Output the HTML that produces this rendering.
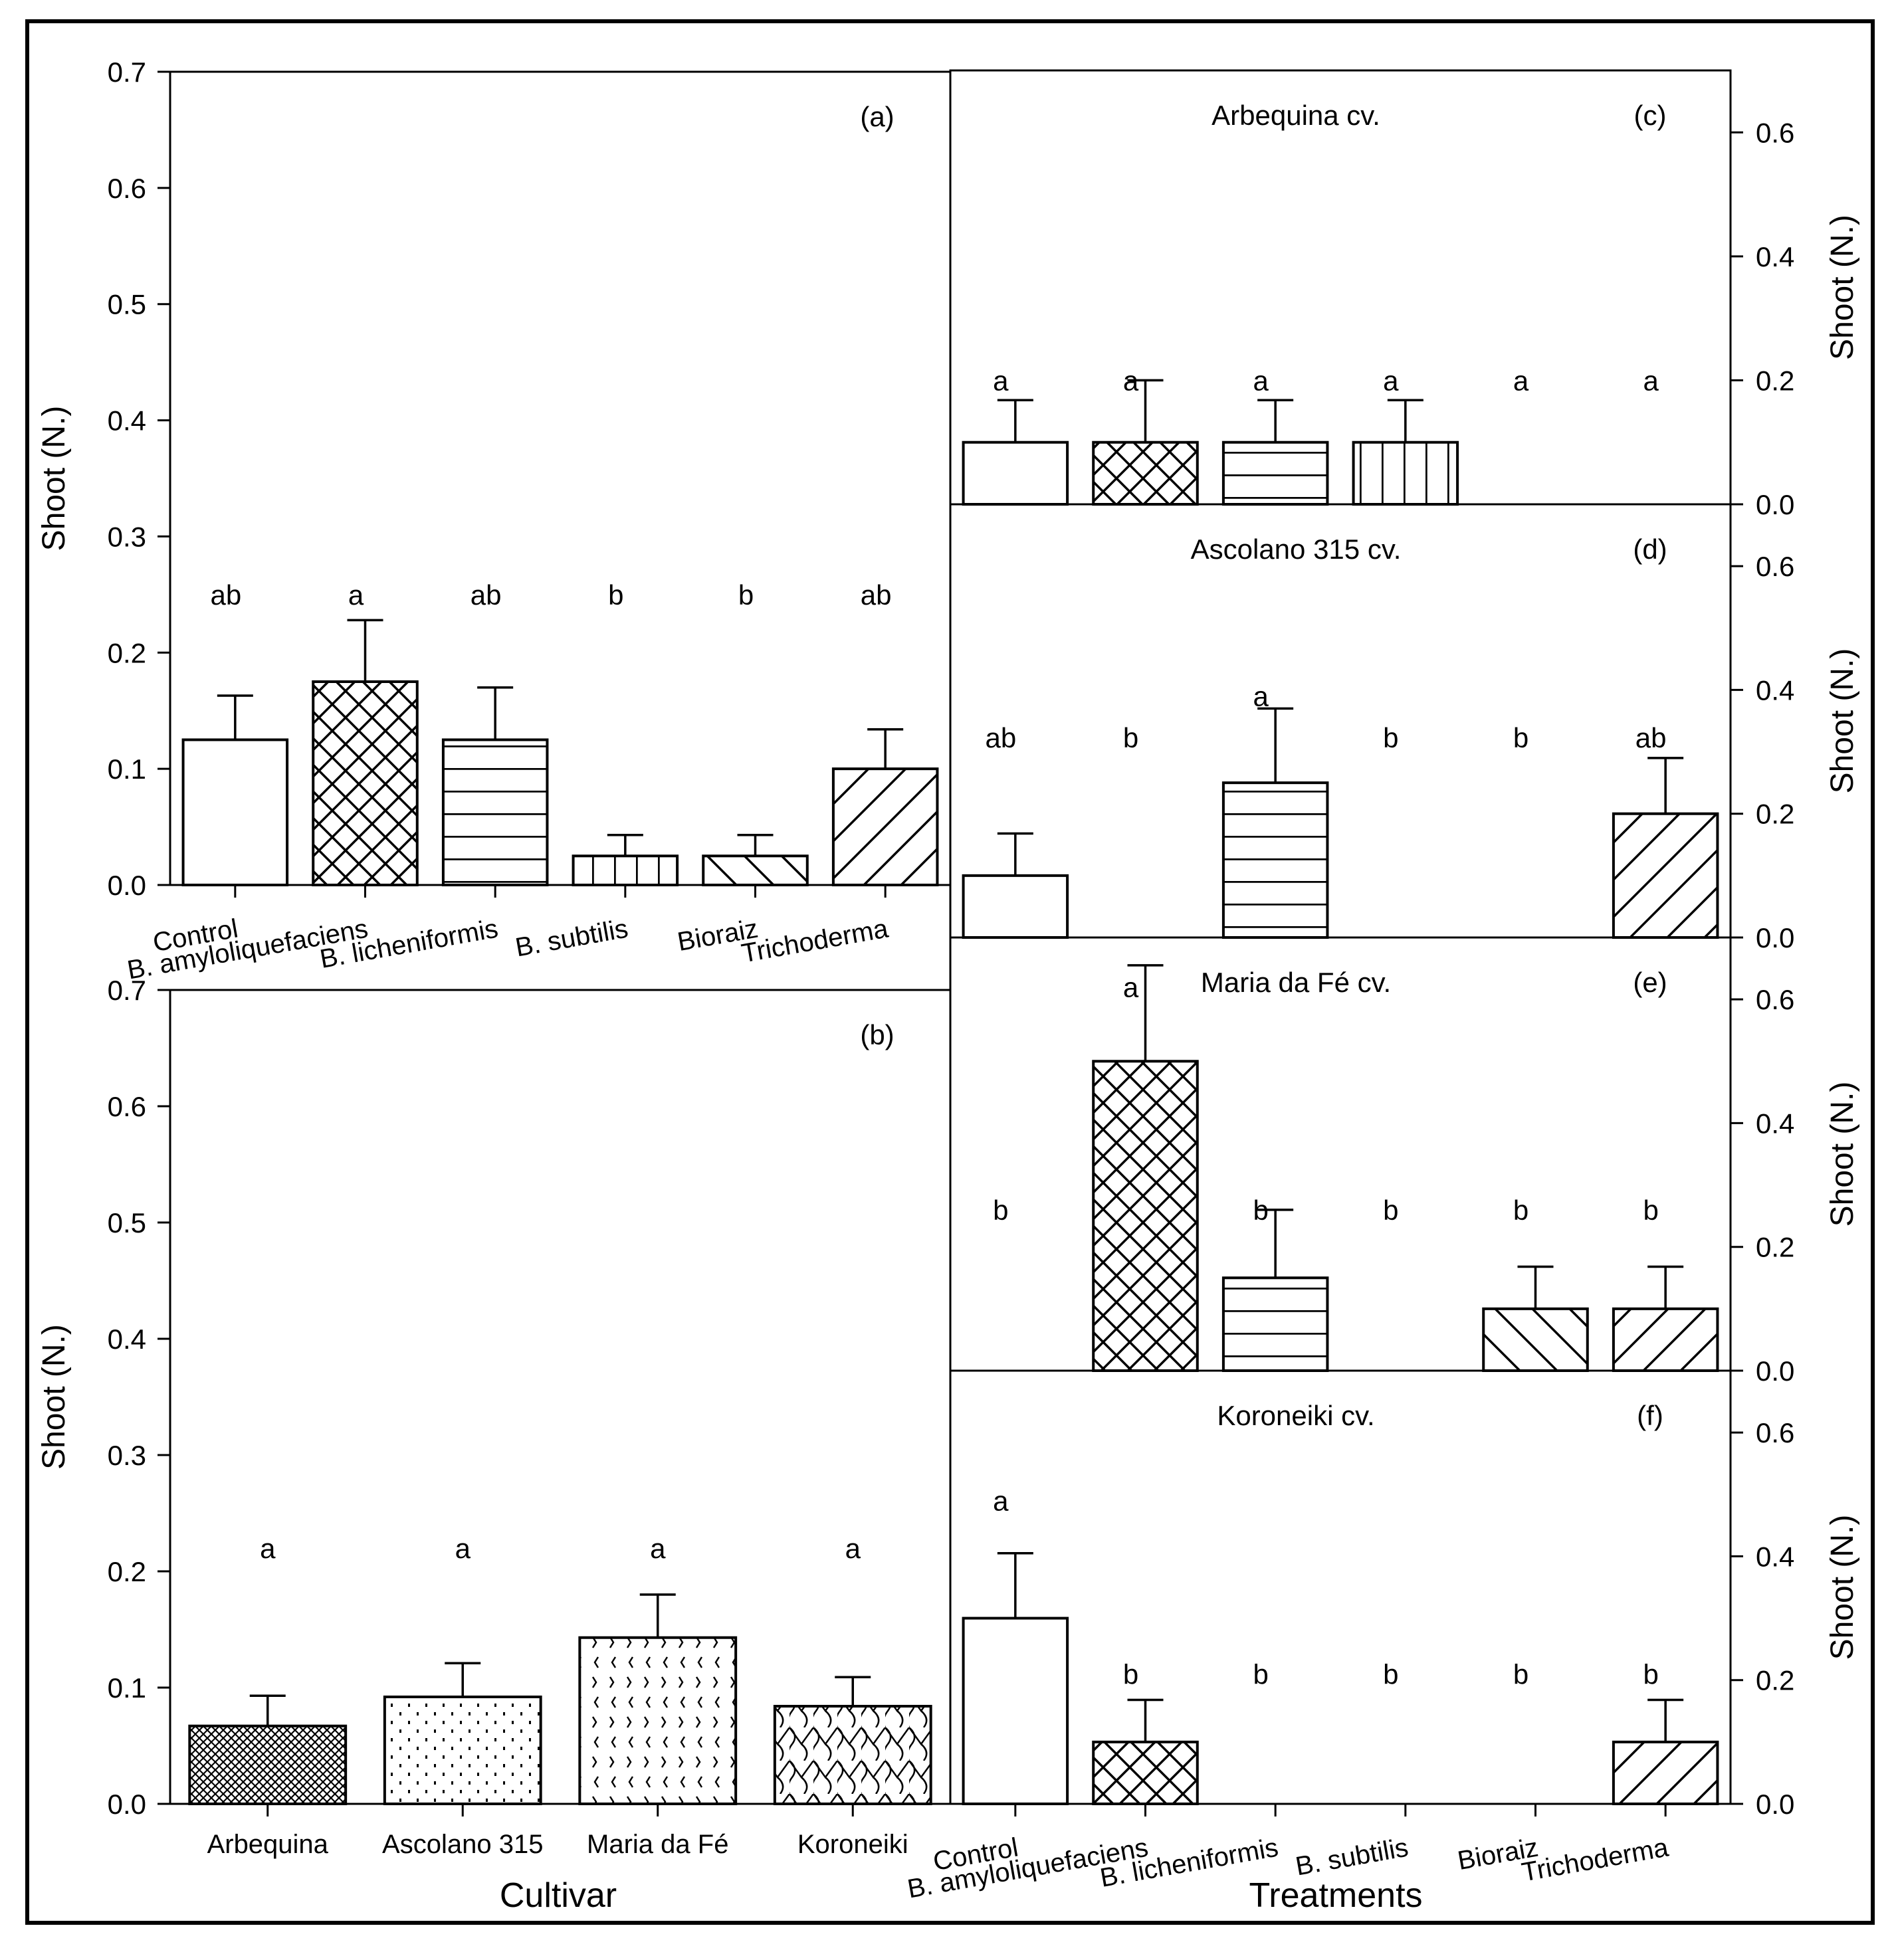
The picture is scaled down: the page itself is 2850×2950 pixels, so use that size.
<!DOCTYPE html>
<html><head><meta charset="utf-8"><style>
html,body{margin:0;padding:0;background:#fff;}
svg{display:block;font-family:"Liberation Sans",Arial,sans-serif;}
</style></head><body>
<svg id="fig" width="2850" height="2950" viewBox="0 0 2850 2950" xmlns="http://www.w3.org/2000/svg">
<defs>
<pattern id="p-cross" width="40" height="40" patternUnits="userSpaceOnUse"><path d="M0 0L40 40M40 0L0 40" stroke="#000" stroke-width="3.5"/></pattern>
<pattern id="p-horiz" width="20" height="34" patternUnits="userSpaceOnUse"><path d="M0 1H20" stroke="#000" stroke-width="3.5"/></pattern>
<pattern id="p-vert" width="33" height="20" patternUnits="userSpaceOnUse"><path d="M1 0V20" stroke="#000" stroke-width="3.5"/></pattern>
<pattern id="p-back" width="56" height="56" patternUnits="userSpaceOnUse"><path d="M0 0L56 56M-28 28L28 84M28 -28L84 28" stroke="#000" stroke-width="3.5"/></pattern>
<pattern id="p-fwd" width="56" height="56" patternUnits="userSpaceOnUse"><path d="M0 56L56 0M-28 28L28 -28M28 84L84 28" stroke="#000" stroke-width="3.5"/></pattern>
<pattern id="p-fine" width="12" height="12" patternUnits="userSpaceOnUse"><path d="M0 0L12 12M12 0L0 12" stroke="#000" stroke-width="2.2"/></pattern>
<pattern id="p-dots" width="26" height="26" patternUnits="userSpaceOnUse"><rect x="3" y="3" width="3" height="5" fill="#000"/><rect x="16" y="16" width="3" height="5" fill="#000"/></pattern>
<pattern id="p-chev" width="26" height="60" patternUnits="userSpaceOnUse"><path d="M8 4L13 12L8 20M16 34L11 42L16 50" stroke="#000" stroke-width="2.5" fill="none"/></pattern>
<pattern id="p-wave" width="36" height="50" patternUnits="userSpaceOnUse"><path d="M0 0Q14 12 4 25Q-6 38 0 50M0 0L18 25L36 0M18 25Q32 37 22 50" stroke="#000" stroke-width="2.5" fill="none"/></pattern>
</defs>
<g id="root"></g>
</svg>
<script>
// ---------- data ----------
const treatments = ["Control","B. amyloliquefaciens","B. licheniformis","B. subtilis","Bioraiz","Trichoderma"];
const cultivars = ["Arbequina","Ascolano 315","Maria da Fé","Koroneiki"];
const aValues = [0.125,0.175,0.125,0.025,0.025,0.100];
const aErrors = [0.163,0.228,0.170,0.043,0.043,0.134];
const aLetters = ["ab","a","ab","b","b","ab"];
const aLetterY = [0.25,0.25,0.25,0.25,0.25,0.25];
const bValues = [0.067,0.092,0.143,0.084];
const bErrors = [0.093,0.121,0.180,0.109];
const bLetters = ["a","a","a","a"];
const bLetterY = [0.22,0.22,0.22,0.22];
const cValues = [0.1,0.1,0.1,0.1,0,0];
const cErrors = [0.168,0.2,0.168,0.168,null,null];
const cLetters = ["a","a","a","a","a","a"];
const cLetterY = [0.2,0.2,0.2,0.2,0.2,0.2];
const dValues = [0.1,0,0.25,0,0,0.2];
const dErrors = [0.168,null,0.37,null,null,0.29];
const dLetters = ["ab","b","a","b","b","ab"];
const dLetterY = [0.323,0.323,0.39,0.323,0.323,0.323];
const eValues = [0,0.5,0.15,0,0.1,0.1];
const eErrors = [null,0.655,0.26,null,0.168,0.168];
const eLetters = ["b","a","b","b","b","b"];
const eLetterY = [0.26,0.62,0.26,0.26,0.26,0.26];
const fValues = [0.3,0.1,0,0,0,0.1];
const fErrors = [0.405,0.168,null,null,null,0.168];
const fLetters = ["a","b","b","b","b","b"];
const fLetterY = [0.49,0.21,0.21,0.21,0.21,0.21];
const leftTicks = [0,0.1,0.2,0.3,0.4,0.5,0.6,0.7];
const leftTickLabels = ["0.0","0.1","0.2","0.3","0.4","0.5","0.6","0.7"];
const rightTicks = [0,0.2,0.4,0.6];
const rightTickLabels = ["0.0","0.2","0.4","0.6"];
// ---------- drawing ----------
const NS="http://www.w3.org/2000/svg";
const root=document.getElementById('root');
function mk(tag,attrs,parent){const e=document.createElementNS(NS,tag);for(const k in attrs)e.setAttribute(k,attrs[k]);(parent||root).appendChild(e);return e;}
function txt(s,attrs,parent){const e=mk('text',attrs,parent);e.textContent=s;return e;}
const tPat=["#fff","url(#p-cross)","url(#p-horiz)","url(#p-vert)","url(#p-back)","url(#p-fwd)"];
const cPat=["url(#p-fine)","url(#p-dots)","url(#p-chev)","url(#p-wave)"];

function panel(o){
  const g=mk('g',{});
  
  
  const y=v=>o.y0-(o.y0-o.yTop)*v/0.7;
  const n=o.values.length, step=(o.x1-o.x0)/n, bw=step*0.8;
  const cx=i=>o.x0+step*(i+0.5);
  const frame=mk('rect',{x:o.x0,y:o.yTop,width:o.x1-o.x0,height:o.y0-o.yTop,fill:'none',stroke:'#000','stroke-width':3},g);
  
  
  for(let i=0;i<n;i++){
    const v=o.values[i];
    if(v>0){
      const r=mk('rect',{x:cx(i)-bw/2,y:y(v),width:bw,height:o.y0-y(v),fill:o.pats[i],stroke:'#000','stroke-width':4},g);
      
      
    }
    if(o.errors[i]!=null){
      const e=mk('path',{d:`M${cx(i)} ${y(v)}V${y(o.errors[i])}M${cx(i)-27} ${y(o.errors[i])}H${cx(i)+27}`,stroke:'#000','stroke-width':3.5,fill:'none'},g);
      
      
    }
    const l=txt(o.letters[i],{x:cx(i)-o.lShift,y:y(o.letterY[i])+15,'font-size':42,'text-anchor':'middle'},g);
    
    
    if(o.xticks){
      const t=mk('line',{x1:cx(i),x2:cx(i),y1:o.y0,y2:o.y0+19,stroke:'#000','stroke-width':3},g);
      
      
    }
    if(o.xlabels==='rot'){
      const lb=txt(o.cats[i],{x:cx(i)+6,y:o.y0+78,'font-size':40,'text-anchor':'end',transform:`rotate(-10 ${cx(i)+6} ${o.y0+78})`},g);
      
      
    } else if(o.xlabels==='flat'){
      const lb=txt(o.cats[i],{x:cx(i),y:o.y0+74,'font-size':40,'text-anchor':'middle'},g);
      
      
    }
  }
  o.ticks.forEach((t,k)=>{
    const yy=y(t);
    if(o.side==='left'){
      const tk=mk('line',{x1:o.x0-19,x2:o.x0,y1:yy,y2:yy,stroke:'#000','stroke-width':3},g);
      
      
      const tl=txt(o.tickLabels[k],{x:o.x0-36,y:yy+15,'font-size':42,'text-anchor':'end'},g);
      
      
    } else {
      const tk=mk('line',{x1:o.x1,x2:o.x1+19,y1:yy,y2:yy,stroke:'#000','stroke-width':3},g);
      
      
      const tl=txt(o.tickLabels[k],{x:o.x1+38,y:yy+15,'font-size':42,'text-anchor':'start'},g);
      
      
    }
  });
  const my=(o.yTop+o.y0)/2;
  const ax=o.side==='left'?80:2771;
  const yt=txt('Shoot (N.)',{x:ax,y:my,'font-size':48,'text-anchor':'middle',transform:`rotate(-90 ${ax} ${my})`,dy:17},g);
  
  
  const tag=txt(o.tag,{x:o.tagX,y:o.yTop+82,'font-size':42,'text-anchor':'middle'},g);
  
  
  if(o.title){
    const ti=txt(o.title,{x:1950,y:o.yTop+82,'font-size':42,'text-anchor':'middle'},g);
    
    
  }
}
panel({name:'panel-a',x0:256,x1:1430,yTop:108,y0:1332,values:aValues,errors:aErrors,letters:aLetters,letterY:aLetterY,cats:treatments,pats:tPat,side:'left',ticks:leftTicks,tickLabels:leftTickLabels,tag:'(a)',tagX:1320,xticks:true,xlabels:'rot',lShift:14});
panel({name:'panel-b',x0:256,x1:1430,yTop:1490,y0:2715,values:bValues,errors:bErrors,letters:bLetters,letterY:bLetterY,cats:cultivars,pats:cPat,side:'left',ticks:leftTicks,tickLabels:leftTickLabels,tag:'(b)',tagX:1320,xticks:true,xlabels:'flat',lShift:0});
const R=[['panel-c',106,759,cValues,cErrors,cLetters,cLetterY,'(c)','Arbequina cv.'],
['panel-d',759,1411,dValues,dErrors,dLetters,dLetterY,'(d)','Ascolano 315 cv.'],
['panel-e',1411,2063,eValues,eErrors,eLetters,eLetterY,'(e)','Maria da Fé cv.'],
['panel-f',2063,2715,fValues,fErrors,fLetters,fLetterY,'(f)','Koroneiki cv.']];
R.forEach((r,i)=>panel({name:r[0],x0:1430,x1:2604,yTop:r[1],y0:r[2],values:r[3],errors:r[4],letters:r[5],letterY:r[6],cats:treatments,pats:tPat,side:'right',ticks:rightTicks,tickLabels:rightTickLabels,tag:r[7],tagX:2483,title:r[8],xticks:i===3,xlabels:i===3?'rot':null,lShift:22}));
const xt1=txt('Cultivar',{x:840,y:2870,'font-size':52,'text-anchor':'middle'});


const xt2=txt('Treatments',{x:2010,y:2870,'font-size':52,'text-anchor':'middle'});


const border=mk('rect',{x:41,y:32,width:2777,height:2862,fill:'none',stroke:'#000','stroke-width':6});


</script>
</body></html>
